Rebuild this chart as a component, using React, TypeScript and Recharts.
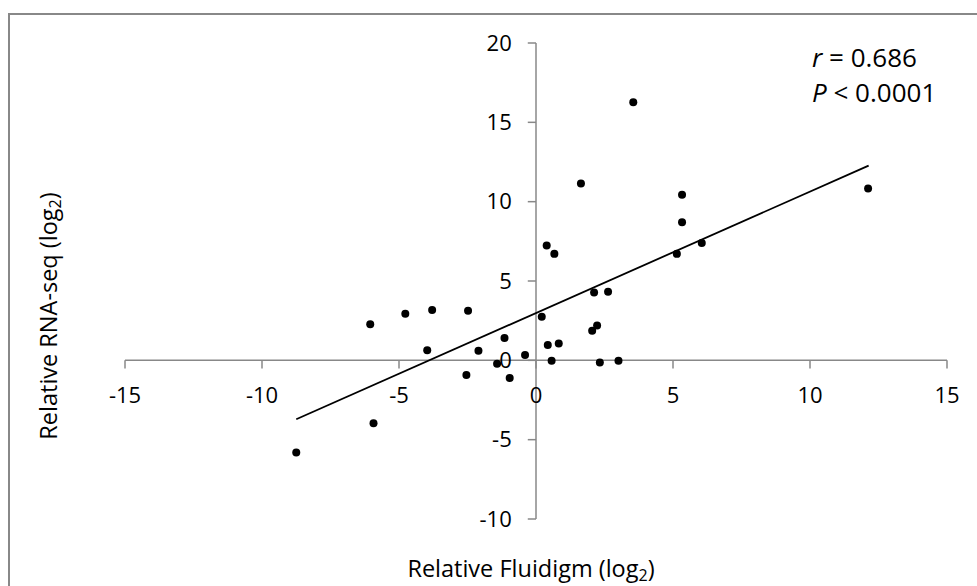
import React from "react";
import { ScatterChart, Scatter, XAxis, YAxis, ReferenceLine } from "recharts";

// values
const fluidigm = [
  -8.75, -6.05, -5.93, -4.77, -3.97, -3.79, -2.54, -2.48, -2.1, -1.42, -1.15, -0.96, -0.4, 0.21, 0.39, 0.43,
  0.57, 0.67, 0.83, 1.64, 2.05, 2.12, 2.23, 2.33, 2.63, 3.01, 3.55, 5.14, 5.33, 5.33, 6.05, 12.12,
];
const rnaSeq = [
  -5.81, 2.28, -3.96, 2.93, 0.64, 3.18, -0.93, 3.12, 0.6, -0.22, 1.4, -1.12, 0.33, 2.74, 7.23, 0.96,
  -0.03, 6.71, 1.06, 11.14, 1.86, 4.27, 2.19, -0.14, 4.32, -0.03, 16.27, 6.71, 10.43, 8.71, 7.4, 10.83,
];
const trendX = [-8.75, 12.14];
const trendY = [-3.71, 12.27];
const xTicks = [-15, -10, -5, 0, 5, 10, 15];
const yTicks = [-10, -5, 0, 5, 10, 15, 20];

const points = fluidigm.map((x, i) => ({ x, y: rnaSeq[i] }));

const W = 977;
const H = 586;
const FONT = "'Open Sans', sans-serif";
const AXIS = "#888888";
const X_TICK_LEN = 0.52; // in y units
const Y_TICK_LEN = 0.3; // in x units

const App: React.FC = () => {
  return (
    <div style={{ position: "absolute", left: 0, top: 0, width: W, height: H, overflow: "hidden", background: "#fff" }}>
      <div
        style={{
          position: "absolute",
          left: 8,
          top: 13,
          width: W,
          height: H,
          borderLeft: `2px solid ${AXIS}`,
          borderTop: `2px solid ${AXIS}`,
        }}
      />
      <div style={{ position: "absolute", left: 0, top: 0 }}>
        <ScatterChart width={W} height={H} margin={{ top: 43, right: 30, bottom: 67, left: 125 }}>
          <XAxis type="number" dataKey="x" domain={[-15, 15]} ticks={xTicks} hide />
          <YAxis type="number" dataKey="y" domain={[-10, 20]} ticks={yTicks} hide />

          {/* axes crossing at the origin */}
          <ReferenceLine y={0} stroke={AXIS} strokeWidth={1.5} />
          <ReferenceLine x={0} stroke={AXIS} strokeWidth={1.5} />
          {xTicks.map((t) => (
            <ReferenceLine
              key={`xt${t}`}
              segment={[{ x: t, y: 0 }, { x: t, y: -X_TICK_LEN }]}
              stroke={AXIS}
              strokeWidth={1.5}
              label={{ value: String(t), position: "bottom", offset: 19, fill: "#000", fontSize: 22, fontFamily: FONT }}
            />
          ))}
          {yTicks.map((t) => (
            <ReferenceLine
              key={`yt${t}`}
              segment={[{ x: -Y_TICK_LEN, y: t }, { x: 0, y: t }]}
              stroke={AXIS}
              strokeWidth={1.5}
              label={{ value: String(t), position: "left", offset: 16, fill: "#000", fontSize: 22, fontFamily: FONT }}
            />
          ))}

          <ReferenceLine
            segment={[{ x: trendX[0], y: trendY[0] }, { x: trendX[1], y: trendY[1] }]}
            stroke="#000"
            strokeWidth={1.8}
          />
          <Scatter data={points} fill="#000" shape={(p: any) => <circle cx={p.cx} cy={p.cy} r={4} fill="#000" />} isAnimationActive={false} />
        </ScatterChart>
      </div>
      <svg width={W} height={H} style={{ position: "absolute", left: 0, top: 0, pointerEvents: "none" }} fontFamily={FONT}>
        <text x={531} y={577} textAnchor="middle" fontSize={23.5} fill="#000">
          Relative Fluidigm (log<tspan fontSize={16} dy={4}>2</tspan>
          <tspan dy={-4}>)</tspan>
        </text>
        <text transform="translate(57,316) rotate(-90)" textAnchor="middle" fontSize={23.5} fill="#000">
          Relative RNA-seq (log<tspan fontSize={16} dy={4}>2</tspan>
          <tspan dy={-4}>)</tspan>
        </text>
        <text x={812} y={67} fontSize={26} fill="#000">
          <tspan fontStyle="italic">r</tspan> = 0.686
        </text>
        <text x={812} y={102} fontSize={26} fill="#000">
          <tspan fontStyle="italic">P</tspan> &lt; 0.0001
        </text>
      </svg>
    </div>
  );
};

export default App;
